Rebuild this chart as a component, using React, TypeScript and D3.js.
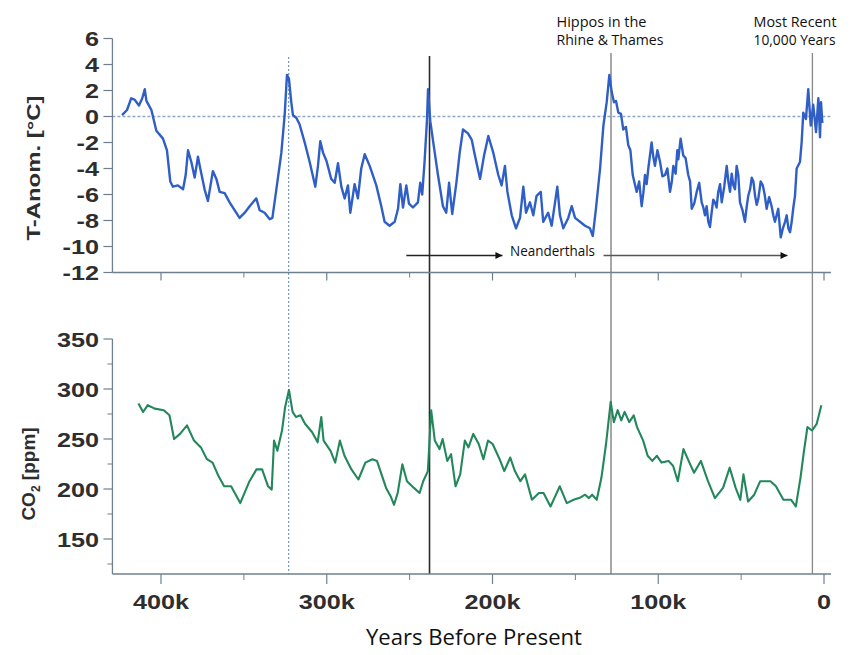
import React from "react";
import * as d3 from "d3";

// ---- Data ----
// Temperature anomaly (°C), years before present in thousands
const tempYears = [
  423.5, 420.5, 418, 416, 413.3, 411.3, 409.8, 408.8, 405.8, 402.8, 398.8, 396.4, 394.4, 392.8, 389.8, 386.7,
  385.1, 383.7, 381.7, 379.7, 377.7, 376.3, 373.7, 371.7, 368.7, 366.6, 364.6, 361.6, 358.6, 355.6, 352.6,
  349.5, 346.5, 342.5, 340.5, 337.5, 334.4, 332.8, 330.4, 327.4, 325.4, 324, 322.8, 321.4, 320.4, 318.4,
  316.4, 313.3, 310.3, 306.9, 305.3, 303.9, 302.2, 300.2, 297.3, 295.2, 293.2, 291.2, 289.2, 287.2, 285.8,
  283.2, 281.2, 279.2, 277.1, 274.1, 270.1, 267.1, 265.1, 262.1, 259, 257, 255.6, 254, 252, 250.4, 248, 245,
  243.6, 242.4, 241, 239.5, 238.9, 237.5, 235.5, 232.9, 229.9, 227.9, 226.2, 224.3, 221.8, 219.8, 217.8,
  214.8, 212.5, 210.6, 207.5, 205.1, 202.5, 199.5, 196.5, 194.5, 192.5, 191, 188.4, 185.8, 183.4, 181.4,
  179.8, 177.4, 175.4, 173.4, 170.9, 169.4, 166.4, 164.3, 160.9, 159.3, 157.3, 154.3, 152.2, 150.2, 147.2,
  144.2, 141.2, 139.5, 137.6, 135.1, 133.1, 131.1, 129.5, 128.1, 126.7, 125.5, 124.1, 122.5, 121.1, 119.5,
  118.1, 116.8, 115.4, 113, 111.5, 110, 109, 108, 107, 106, 105, 104, 103, 102, 100.5, 98.9, 97.5, 95.9,
  94.5, 92.9, 91.8, 90.9, 89.5, 88.5, 87.9, 86.5, 84.9, 83.5, 81.9, 80.8, 79.8, 78.3, 76.8, 75.3, 73.8,
  72.8, 71.8, 70.8, 69.8, 68.8, 67.8, 66.8, 65.8, 64.8, 63.8, 62.7, 61.7, 60.2, 58.7, 57.7, 56.7, 55.7,
  54.7, 53.7, 52.7, 51.7, 50.7, 49.2, 47.7, 46.7, 45.7, 44.6, 43.6, 42.6, 41.6, 40.6, 39.6, 38.2, 36.9,
  35.8, 34.6, 33.1, 31.6, 30.6, 29.6, 28.6, 27.6, 26.1, 24.8, 23.5, 22.5, 21.5, 20.5, 19.5, 18.5, 17.5,
  16.5, 14.5, 13.5, 12.5, 10.9, 9.5, 8, 6.5, 4.8, 3.4, 2.4, 1.8, 1.0,
];
const tempAnom = [
  0.1, 0.5, 1.4, 1.3, 0.85, 1.4, 2.1, 1.2, 0.5, -1.1, -1.7, -2.6, -5.0, -5.4, -5.3, -5.6,
  -4.5, -2.6, -3.5, -4.7, -3.1, -4.0, -5.6, -6.5, -4.2, -4.8, -5.8, -5.9, -6.6, -7.2, -7.8,
  -7.4, -6.9, -6.3, -7.2, -7.4, -7.9, -7.8, -5.6, -2.8, 0.1, 3.2, 2.9, 1.1, 0.1, -0.1,
  -0.6, -2.0, -3.5, -5.4, -3.8, -1.9, -2.8, -3.4, -4.8, -5.1, -3.6, -5.4, -6.3, -5.3, -7.4,
  -5.2, -6.3, -4.0, -2.9, -3.8, -5.3, -6.9, -8.1, -8.4, -8.1, -7.1, -5.2, -7.0, -5.3, -6.7, -7.0, -6.6,
  -5.1, -6.0, -3.5, -0.2, 2.1, -0.4, -2.2, -4.5, -6.9, -7.4, -5.1, -7.5, -5.1, -2.8, -1.0,
  -1.3, -1.8, -3.0, -4.8, -3.0, -1.5, -2.8, -4.5, -5.3, -3.8, -5.8, -7.6, -8.6, -7.8, -5.4,
  -7.4, -6.6, -7.6, -6.1, -5.8, -8.1, -7.4, -8.4, -5.4, -7.6, -8.6, -7.8, -6.9, -7.8, -8.1,
  -8.4, -8.6, -9.2, -7.1, -4.0, -0.7, 1.1, 3.2, 1.9, 1.1, 1.2, 0.3, 0.2, -1.0, -0.8,
  -2.2, -2.6, -4.5, -5.8, -5.0, -6.9, -5.9, -4.5, -5.2, -4.0, -3.0, -2.0, -3.1, -3.8, -2.6, -3.5, -4.6, -4.5,
  -4.0, -5.8, -5.0, -3.8, -4.4, -2.6, -3.3, -1.7, -3.0, -3.2, -4.5, -5.0, -7.1, -6.7, -5.8, -5.1, -6.6,
  -7.0, -7.6, -6.9, -8.1, -8.5, -7.4, -6.4, -6.6, -7.0, -5.8, -5.2, -6.6, -5.4, -3.8, -5.0, -5.8, -4.4,
  -5.3, -5.6, -3.8, -4.5, -6.6, -7.2, -8.1, -7.0, -6.1, -5.6, -4.7, -5.0, -6.1, -6.8, -6.3, -5.0, -5.3,
  -6.0, -7.1, -6.2, -6.9, -7.6, -8.1, -7.6, -7.1, -9.3, -8.6, -8.1, -7.6, -8.6, -8.9, -8.1, -7.0, -6.1,
  -4.0, -3.5, -2.0, 0.3, -0.2, 2.1, -0.7, 0.9, -1.2, 1.4, -1.6, 1.1, -0.5,
];

// CO2 (ppm)
const co2Years = [
  413.6, 410.8, 408, 403.8, 398.3, 394.9, 392.1, 388.5, 384.3, 380.1, 375.9, 372.3, 368.9, 365.3, 361.9,
  357.7, 352.2, 346.6, 342.4, 339, 335.4, 333.2, 331.8, 329.8, 327, 325.1, 322.8, 320.6, 318.6, 315.8,
  313.1, 308.8, 305.5, 303.3, 301.9, 297.7, 294.9, 292.1, 289.3, 285.1, 280.9, 276.7, 272.5, 269.7,
  264.2, 261.4, 259.4, 257.2, 254.4, 251.6, 247.4, 244, 241.8, 239, 237, 234.8, 232, 230.1, 227.3, 225,
  222.3, 219.5, 216.7, 214.5, 211.6, 208.3, 205.5, 202.7, 199.9, 195.7, 192.9, 189.3, 186.5, 183.2,
  180.4, 176.2, 172, 169.2, 165, 162.2, 159.4, 155.2, 151.1, 146.9, 144.1, 141.8, 139.9, 137.1, 134.3,
  131.5, 128.7, 126.8, 124.5, 122.3, 120.3, 117.5, 114.8, 112.8, 109.1, 106.4, 103.6, 100.8, 98, 93.8,
  91, 88.2, 84.8, 81.2, 78.4, 74.3, 70, 65.8, 60.9, 56.9, 53.3, 50.5, 48.6, 45.8, 42.1, 38.5, 32.3, 29,
  24.5, 19.8, 17, 14.2, 12.2, 10, 7.2, 4.4, 1.6,
];
const co2Ppm = [
  285.5, 277, 283.8, 280.4, 278.8, 273.7, 250, 255.1, 263.6, 248.4, 241.6, 229.8, 226.4, 212.9, 202.7,
  202.7, 185.9, 207.8, 219.6, 219.6, 202.7, 199.4, 248.4, 238.2, 258.5, 282.1, 299, 277.1, 272, 273.7,
  265.2, 256.8, 246.7, 272, 248.4, 238.2, 226.4, 248.4, 233.2, 219.6, 209.5, 226.4, 229.8, 228.1,
  201.1, 192.6, 184.2, 196, 224.7, 207.8, 201.1, 196, 207.8, 217.9, 278.8, 248.4, 239.9, 250, 228.1, 234.8,
  202.7, 214.6, 248.4, 241.6, 255.1, 245, 229.8, 248.4, 245, 229.8, 217.9, 231.5, 217.9, 207.8,
  214.6, 189.2, 196, 196, 182.5, 192.6, 202.7, 185.9, 189.2, 191.6, 194.3, 190.9, 194.3, 189.2, 211.2,
  245, 287.2, 266.9, 278.8, 268.6, 277.1, 266.9, 273.7, 261.9, 248.4, 233.2, 228.1, 233.2, 226.4, 228.1,
  223, 207.8, 239.9, 226.4, 216.3, 228.1, 207.8, 190.9, 201.1, 221.3, 201.1, 189.2, 214.6, 187.5, 194.3, 207.8, 207.8, 202.7,
  189.2, 189.2, 182.5, 211.2, 236.5, 261.9, 258.5, 265.2, 283.8,
];

const tempTicks = [6, 4, 2, 0, -2, -4, -6, -8, -10, -12];
const co2Ticks = [350, 300, 250, 200, 150];
const co2MinorTicks = [325, 275, 225, 175, 125];
const yearTicks = [400, 300, 200, 100, 0];
const yearTickLabels = ["400k", "300k", "200k", "100k", "0"];
const yearMinorTicks = [350, 250, 150, 50];
const markerYears = [323, 238, 128.5, 7];
const neanderFrom = [252, 133];
const neanderTo = [194, 22];

export default function App() {
  const x = d3.scaleLinear().domain([400, 0]).range([161, 824]);
  const yT = d3.scaleLinear().domain([6, -12]).range([38.5, 272.5]);
  const yC = d3.scaleLinear().domain([350, 115]).range([339, 574]);
  const xL = x(429.3);
  const xR = x(-4.2);

  const tPts: [number, number][] = tempYears.map((k, i) => [k, tempAnom[i]]);
  const cPts: [number, number][] = co2Years.map((k, i) => [k, co2Ppm[i]]);
  const tLine = d3.line<[number, number]>().x((d) => x(d[0])).y((d) => yT(d[1]))(tPts) || "";
  const cLine = d3.line<[number, number]>().x((d) => x(d[0])).y((d) => yC(d[1]))(cPts) || "";

  const axisColor = "#6f7f8e";
  const labelColor = "#2e2e2e";
  const tickFont = "'Liberation Sans', Arial, sans-serif";
  const noteFont = "'Open Sans', 'Noto Sans', sans-serif";

  const tickLabel = (tx: number, ty: number, s: string, anchor: string, key: string) => (
    <text
      key={key}
      transform={`translate(${tx},${ty}) scale(1.2,1)`}
      textAnchor={anchor as any}
      fontFamily={tickFont}
      fontWeight="bold"
      fontSize={21}
      fill={labelColor}
    >
      {s}
    </text>
  );

  const markerStyles = [
    { stroke: "#7d9cc6", dash: "2,2", w: 1.3, top: 57 },
    { stroke: "#2a2a2a", dash: "", w: 1.6, top: 56 },
    { stroke: "#777", dash: "", w: 1.3, top: 53 },
    { stroke: "#888", dash: "", w: 1.3, top: 53 },
  ];

  return (
    <div style={{ position: "absolute", left: 0, top: 0 }}>
      <svg width={854} height={655} style={{ display: "block", background: "#fff" }}>
        <defs>
          <marker id="ah" viewBox="0 0 10 10" refX="10" refY="5" markerWidth="10" markerHeight="7" markerUnits="userSpaceOnUse" orient="auto">
            <path d="M0,0 L10,5 L0,10 z" fill="#111" />
          </marker>
        </defs>

        {/* zero line */}
        <line x1={xL} x2={xR} y1={yT(0)} y2={yT(0)} stroke="#8ea6c9" strokeWidth={1.3} strokeDasharray="3,2" />

        {/* vertical markers */}
        {markerYears.map((k, i) => (
          <line
            key={"m" + i}
            x1={x(k)}
            x2={x(k)}
            y1={markerStyles[i].top}
            y2={yC(115)}
            stroke={markerStyles[i].stroke}
            strokeWidth={markerStyles[i].w}
            strokeDasharray={markerStyles[i].dash || undefined}
          />
        ))}

        {/* Top panel axes */}
        <line x1={xL} x2={xL} y1={yT(6)} y2={yT(-12)} stroke={axisColor} strokeWidth={1.3} />
        <line x1={xL} x2={xR} y1={yT(-12)} y2={yT(-12)} stroke={axisColor} strokeWidth={1.3} />
        {tempTicks.map((t) => (
          <g key={"tt" + t}>
            <line x1={xL - 9} x2={xL} y1={yT(t)} y2={yT(t)} stroke={axisColor} strokeWidth={1.2} />
            {tickLabel(99, yT(t) + 7.5, String(t), "end", "tl" + t)}
          </g>
        ))}
        {yearTicks.map((k) => (
          <line key={"tx" + k} x1={x(k)} x2={x(k)} y1={yT(-12)} y2={yT(-12) + 8} stroke={axisColor} strokeWidth={1.2} />
        ))}
        {yearMinorTicks.map((k) => (
          <line key={"tmx" + k} x1={x(k)} x2={x(k)} y1={yT(-12)} y2={yT(-12) + 5} stroke={axisColor} strokeWidth={1} />
        ))}

        {/* Bottom panel axes */}
        <line x1={xL} x2={xL} y1={yC(350)} y2={yC(115)} stroke={axisColor} strokeWidth={1.3} />
        <line x1={xL} x2={xR} y1={yC(115)} y2={yC(115)} stroke={axisColor} strokeWidth={1.3} />
        {co2Ticks.map((c) => (
          <g key={"ct" + c}>
            <line x1={xL - 9} x2={xL} y1={yC(c)} y2={yC(c)} stroke={axisColor} strokeWidth={1.2} />
            {tickLabel(99, yC(c) + 7.5, String(c), "end", "cl" + c)}
          </g>
        ))}
        {co2MinorTicks.map((c) => (
          <line key={"cm" + c} x1={xL - 5} x2={xL} y1={yC(c)} y2={yC(c)} stroke={axisColor} strokeWidth={1} />
        ))}
        {yearTicks.map((k, i) => (
          <g key={"bx" + k}>
            <line x1={x(k)} x2={x(k)} y1={yC(115)} y2={yC(115) + 10} stroke={axisColor} strokeWidth={1.2} />
            {tickLabel(x(k), 608.5, yearTickLabels[i], "middle", "bl" + k)}
          </g>
        ))}
        {yearMinorTicks.map((k) => (
          <line key={"bmx" + k} x1={x(k)} x2={x(k)} y1={yC(115)} y2={yC(115) + 6} stroke={axisColor} strokeWidth={1} />
        ))}

        {/* data lines */}
        <path d={tLine} fill="none" stroke="#2f5fc6" strokeWidth={2.4} strokeLinejoin="round" />
        <path d={cLine} fill="none" stroke="#23875c" strokeWidth={2.1} strokeLinejoin="round" />

        {/* Neanderthals arrows */}
        {neanderFrom.map((k, i) => (
          <line
            key={"na" + i}
            x1={x(k)}
            x2={x(neanderTo[i])}
            y1={255.5}
            y2={255.5}
            stroke={i === 0 ? "#222" : "#555"}
            strokeWidth={1.4}
            markerEnd="url(#ah)"
          />
        ))}
        <rect x={505} y={240} width={96} height={22} fill="#fff" />
        <text x={510} y={256} fontFamily={noteFont} fontSize={14} fill="#111" textLength={85} lengthAdjust="spacingAndGlyphs">
          Neanderthals
        </text>

        {/* top annotations */}
        <text x={556.5} y={26.5} fontFamily={noteFont} fontSize={15} fill="#111" textLength={90} lengthAdjust="spacingAndGlyphs">
          Hippos in the
        </text>
        <text x={556.5} y={45} fontFamily={noteFont} fontSize={15} fill="#111" textLength={107} lengthAdjust="spacingAndGlyphs">
          Rhine &amp; Thames
        </text>
        <text x={753.5} y={26.5} fontFamily={noteFont} fontSize={15} fill="#111" textLength={83} lengthAdjust="spacingAndGlyphs">
          Most Recent
        </text>
        <text x={753.5} y={45} fontFamily={noteFont} fontSize={15} fill="#111" textLength={82} lengthAdjust="spacingAndGlyphs">
          10,000 Years
        </text>

        {/* axis titles */}
        <text
          transform="translate(40,168) rotate(-90)"
          textAnchor="middle"
          fontFamily={tickFont}
          fontWeight="bold"
          fontSize={19}
          fill={labelColor}
          textLength={145}
          lengthAdjust="spacingAndGlyphs"
        >
          T-Anom. [°C]
        </text>
        <text
          transform="translate(35,474) rotate(-90)"
          textAnchor="middle"
          fontFamily={tickFont}
          fontWeight="bold"
          fontSize={19}
          fill={labelColor}
        >
          CO<tspan fontSize={12} dy={5}>2</tspan>
          <tspan dy={-5}> [ppm]</tspan>
        </text>
        <text x={474} y={645} textAnchor="middle" fontFamily={noteFont} fontSize={21} fill="#111" textLength={216} lengthAdjust="spacingAndGlyphs">
          Years Before Present
        </text>
      </svg>
    </div>
  );
}
